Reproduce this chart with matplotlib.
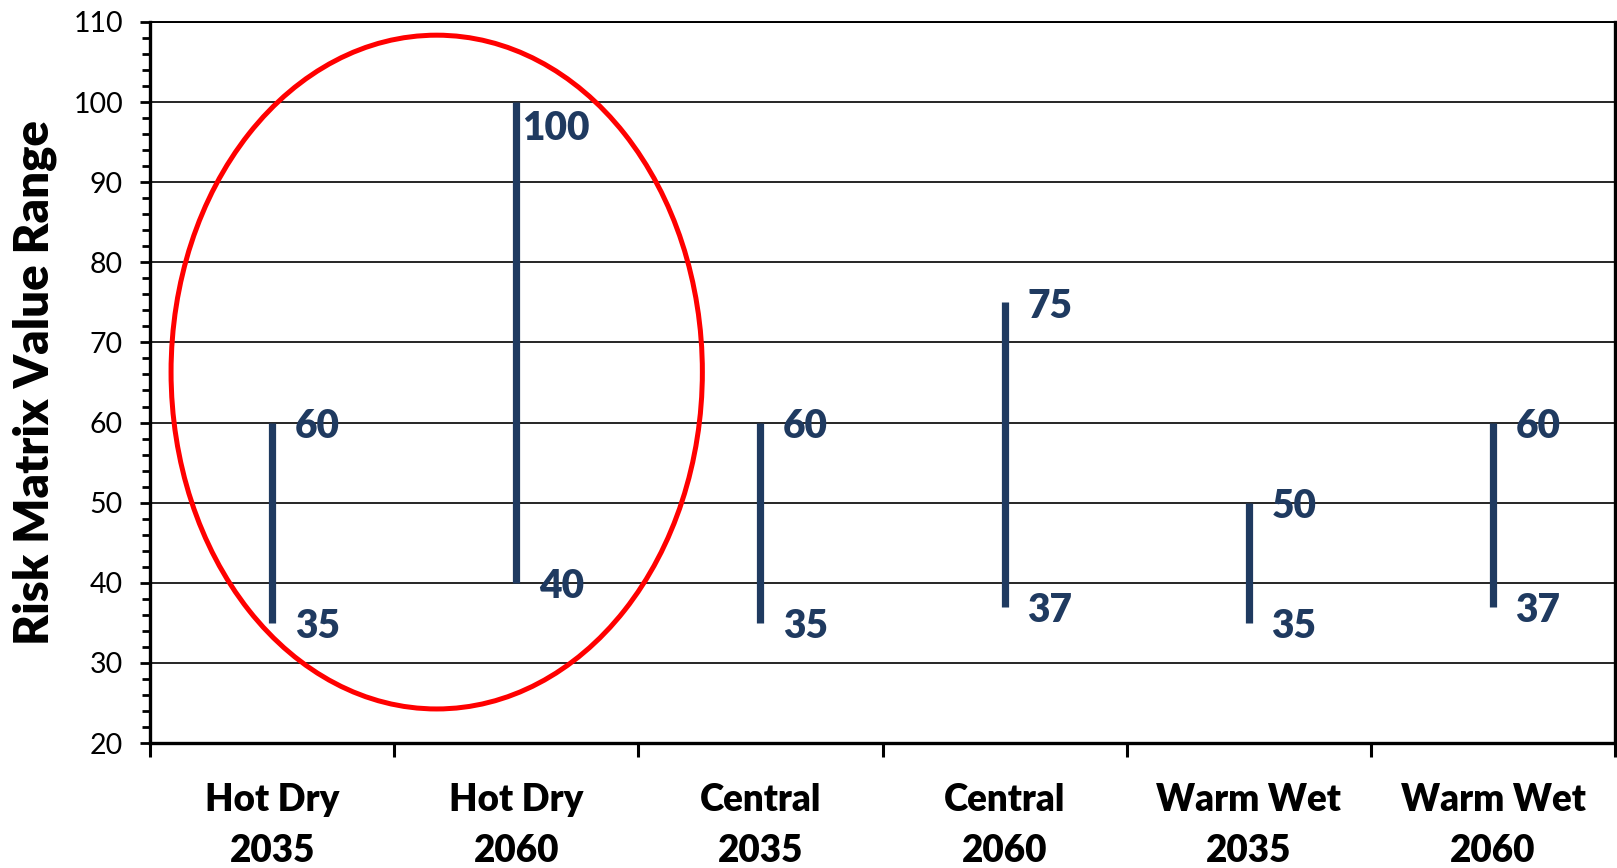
import matplotlib.pyplot as plt
from matplotlib.patches import Ellipse
from matplotlib.ticker import MultipleLocator, FixedLocator
import numpy as np

scenarios = ['Hot Dry\n2035', 'Hot Dry\n2060', 'Central\n2035', 'Central\n2060',
             'Warm Wet\n2035', 'Warm Wet\n2060']
low = [35, 40, 35, 37, 35, 37]
high = [60, 100, 60, 75, 50, 60]

navy = '#1F3A60'
plt.rcParams['font.family'] = ['Lato', 'DejaVu Sans']

fig = plt.figure(figsize=(16.17, 8.68), dpi=100)
ax = fig.add_axes([0.0928, 0.144, 0.906, 0.8307])

x = np.arange(len(scenarios))
ax.vlines(x, low, high, colors=navy, linewidth=5.2, capstyle='butt', zorder=3)

# value labels to the right of each range line
for xi, lo, hi in zip(x, low, high):
    if hi >= 100:
        dx, dy = 40, -26
    else:
        dx, dy = 45, -4
    ax.annotate(str(hi), (xi, hi), xytext=(dx, dy), textcoords='offset pixels',
                ha='center', va='center', fontsize=28, fontweight='heavy', color=navy)
    ax.annotate(str(lo), (xi, lo), xytext=(45, -4), textcoords='offset pixels',
                ha='center', va='center', fontsize=28, fontweight='heavy', color=navy)

ax.set_xlim(-0.5, len(scenarios) - 0.5)
ax.set_ylim(20, 110)

ax.yaxis.set_major_locator(MultipleLocator(10))
ax.yaxis.set_minor_locator(MultipleLocator(2))
ax.set_xticks(x)
ax.set_xticklabels(scenarios, fontsize=26.5, fontweight='heavy', linespacing=1.58)
ax.xaxis.set_minor_locator(FixedLocator(np.arange(-0.5, len(scenarios), 1.0)))

ax.tick_params(axis='x', which='major', length=0, pad=29)
ax.tick_params(axis='x', which='minor', length=10, width=2.2, direction='out')
ax.tick_params(axis='y', which='major', length=7.5, width=2, direction='out',
               labelsize=20.5, pad=12)
ax.tick_params(axis='y', which='minor', length=5.5, width=2, direction='out')

ax.grid(axis='y', which='major', color='black', linewidth=1.2, zorder=0)
ax.set_axisbelow(True)

for side in ['left', 'bottom', 'right']:
    ax.spines[side].set_linewidth(2.4)
ax.spines['top'].set_linewidth(1.4)

ax.set_ylabel('Risk Matrix Value Range', fontsize=34, fontweight='heavy', labelpad=12)

# highlight the Hot Dry scenarios
ring = Ellipse((0.674, 66.3), 2.176, 84.1, fill=False, edgecolor='#FF0000',
               linewidth=3.6, clip_on=False, zorder=4)
ax.add_patch(ring)

fig.savefig('out.png', dpi=100)
